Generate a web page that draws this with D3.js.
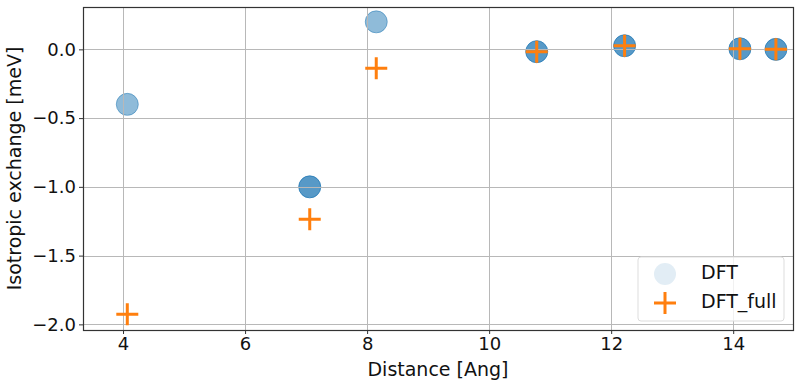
<!DOCTYPE html>
<html>
<head>
<meta charset="utf-8">
<script src="https://cdn.jsdelivr.net/npm/d3@7"></script>
<style>
  body { margin: 0; background: #fff; }
  svg { display: block; font-family: "DejaVu Sans", sans-serif; }
</style>
</head>
<body>
<div id="chart"></div>
<script>
    const width = 800;
    const height = 386;
    const margin = { top: 7, right: 7, bottom: 56, left: 83 };
    const innerWidth = width - margin.left - margin.right;
    const innerHeight = height - margin.top - margin.bottom;

    // Data
    const distances = [4.07, 7.06, 8.15, 10.78, 12.22, 14.11, 14.70];
    const dftValues = [-0.40, -1.00, 0.20, -0.017, 0.026, 0.004, 0.0];
    const dftFullValues = [-1.927, -1.236, -0.138, -0.017, 0.026, 0.004, 0.0];
    // how many DFT points sit on top of each other at each distance
    const dftMultiplicity = [1, 2, 1, 2, 2, 2, 2];
    const xTicks = [4, 6, 8, 10, 12, 14];
    const yTicks = [0.0, -0.5, -1.0, -1.5, -2.0];
    const seriesNames = ["DFT", "DFT_full"];

    const svg = d3.select("#chart")
                  .append("svg")
                  .attr("width", width)
                  .attr("height", height);

    const xScale = d3.scaleLinear()
                     .domain([3.344, 14.98])
                     .range([margin.left, margin.left + innerWidth]);

    const yScale = d3.scaleLinear()
                     .domain([-2.041, 0.308])
                     .range([margin.top + innerHeight, margin.top]);

    const blue = "#1f77b4";
    const orange = "#ff7f0e";

    // DFT circles, alpha 0.5 stacked by multiplicity
    svg.append("g")
       .selectAll("circle")
       .data(distances)
       .join("circle")
       .attr("cx", d => xScale(d))
       .attr("cy", (d, i) => yScale(dftValues[i]))
       .attr("r", 11)
       .attr("fill", blue)
       .attr("fill-opacity", (d, i) => 1 - Math.pow(0.5, dftMultiplicity[i]))
       .attr("stroke", blue)
       .attr("stroke-opacity", (d, i) => 1 - Math.pow(0.5, dftMultiplicity[i]))
       .attr("stroke-width", 1);

    // grid (drawn over the circles like matplotlib)
    const grid = svg.append("g").attr("stroke", "#b8b8b8").attr("stroke-width", 1);
    grid.selectAll("line.gx")
        .data(xTicks)
        .join("line")
        .attr("class", "gx")
        .attr("x1", d => Math.round(xScale(d)) + 0.5)
        .attr("x2", d => Math.round(xScale(d)) + 0.5)
        .attr("y1", margin.top)
        .attr("y2", margin.top + innerHeight);
    grid.selectAll("line.gy")
        .data(yTicks)
        .join("line")
        .attr("class", "gy")
        .attr("y1", d => Math.round(yScale(d)) + 0.5)
        .attr("y2", d => Math.round(yScale(d)) + 0.5)
        .attr("x1", margin.left)
        .attr("x2", margin.left + innerWidth);

    // DFT_full plus markers
    const crossPath = s => `M${-s},0H${s}M0,${-s}V${s}`;
    svg.append("g")
       .selectAll("path")
       .data(distances)
       .join("path")
       .attr("transform", (d, i) => `translate(${xScale(d)},${yScale(dftFullValues[i])})`)
       .attr("d", crossPath(11))
       .attr("fill", "none")
       .attr("stroke", orange)
       .attr("stroke-width", 3);

    // Axes
    const xAxis = svg.append("g")
       .attr("transform", `translate(0, ${margin.top + innerHeight})`)
       .call(d3.axisBottom(xScale).tickValues(xTicks).tickFormat(d3.format("d")).tickSize(4).tickPadding(3));

    const yAxis = svg.append("g")
       .attr("transform", `translate(${margin.left}, 0)`)
       .call(d3.axisLeft(yScale).tickValues(yTicks)
             .tickFormat(d => d3.format(".1f")(d).replace("-", "\u2212"))
             .tickSize(4).tickPadding(3));

    [xAxis, yAxis].forEach(a => {
      a.attr("font-size", 18).attr("font-family", "DejaVu Sans, sans-serif");
      a.select(".domain").remove();
      a.selectAll("line").attr("stroke", "#333");
      a.selectAll("text").attr("fill", "#111");
    });

    // Frame
    svg.append("rect")
       .attr("x", margin.left + 0.5)
       .attr("y", margin.top + 0.5)
       .attr("width", innerWidth)
       .attr("height", innerHeight)
       .attr("fill", "none")
       .attr("stroke", "#333")
       .attr("stroke-width", 1.2);

    // Labels
    svg.append("text")
       .attr("x", margin.left + innerWidth / 2)
       .attr("y", 376)
       .attr("text-anchor", "middle")
       .attr("font-size", 19)
       .attr("fill", "#111")
       .text("Distance [Ang]");

    svg.append("text")
       .attr("transform", `translate(21, ${margin.top + innerHeight / 2}) rotate(-90)`)
       .attr("text-anchor", "middle")
       .attr("font-size", 19)
       .attr("fill", "#111")
       .text("Isotropic exchange [meV]");

    // Legend
    const legend = svg.append("g").attr("transform", "translate(638, 257)");
    legend.append("rect")
          .attr("width", 146)
          .attr("height", 64)
          .attr("rx", 3)
          .attr("fill", "#fff")
          .attr("fill-opacity", 0.8)
          .attr("stroke", "#ddd");
    legend.append("circle")
          .attr("cx", 27).attr("cy", 17).attr("r", 11)
          .attr("fill", blue).attr("fill-opacity", 0.13);
    legend.append("path")
          .attr("transform", "translate(27, 46)")
          .attr("d", crossPath(11))
          .attr("stroke", orange).attr("stroke-width", 3);
    legend.selectAll("text")
          .data(seriesNames)
          .join("text")
          .attr("x", 63)
          .attr("y", (d, i) => 22 + i * 29)
          .attr("font-size", 19)
          .attr("fill", "#111")
          .text(d => d);
</script>
</body>
</html>
